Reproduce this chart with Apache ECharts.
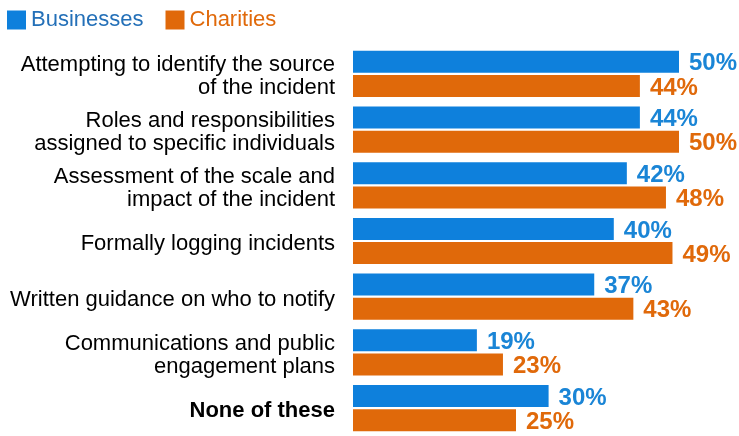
<!DOCTYPE html>
<html>
<head>
<meta charset="utf-8">
<script src="https://cdn.jsdelivr.net/npm/echarts@6/dist/echarts.min.js"></script>
<style>
  html, body { margin: 0; padding: 0; background: #fff; }
  #chart { width: 739px; height: 436px; }
</style>
</head>
<body>
<div id="chart"></div>
<script>
var categories = [
    'Attempting to identify the source\nof the incident',
    'Roles and responsibilities\nassigned to specific individuals',
    'Assessment of the scale and\nimpact of the incident',
    'Formally logging incidents',
    'Written guidance on who to notify',
    'Communications and public\nengagement plans',
    'None of these'
];
var businesses = [50, 44, 42, 40, 37, 19, 30];
var charities = [44, 50, 48, 49, 43, 23, 25];

var BLUE = '#0e80dc';
var ORANGE = '#e0690a';

var chart = echarts.init(document.getElementById('chart'));

function valueLabel(color) {
    return {
        show: true,
        position: 'right',
        distance: 10,
        offset: [0, 2],
        formatter: '{c}%',
        color: color,
        fontFamily: 'Liberation Sans',
        fontWeight: 'bold',
        fontSize: 24
    };
}

chart.setOption({
    animation: false,
    legend: {
        left: 7,
        top: 9,
        padding: 0,
        icon: 'rect',
        itemWidth: 19,
        itemHeight: 19,
        itemGap: 22,
        data: [
            {name: 'Businesses', textStyle: {color: '#2470b8'}},
            {name: 'Charities', textStyle: {color: ORANGE}}
        ],
        textStyle: {
            fontFamily: 'Liberation Sans',
            fontSize: 22
        }
    },
    grid: {
        left: 353,
        top: 46,
        width: 358.6,
        height: 392
    },
    xAxis: {
        type: 'value',
        min: 0,
        max: 55,
        show: false
    },
    yAxis: {
        type: 'category',
        inverse: true,
        data: categories,
        axisLine: {show: false},
        axisTick: {show: false},
        axisLabel: {
            margin: 18,
            color: '#000',
            fontFamily: 'Liberation Sans',
            fontSize: 22,
            lineHeight: 23,
            align: 'right',
            padding: [6, 0, 0, 0],
            formatter: function (v) {
                if (v === 'None of these') return '{b|' + v + '}';
                return v;
            },
            rich: {
                b: {fontWeight: 'bold', fontSize: 22, color: '#000', fontFamily: 'Liberation Sans'}
            }
        }
    },
    series: [
        {
            name: 'Businesses',
            type: 'bar',
            data: businesses,
            barWidth: 22,
            barGap: '10%',
            itemStyle: {color: BLUE},
            label: valueLabel('#1a85d6')
        },
        {
            name: 'Charities',
            type: 'bar',
            data: charities,
            barWidth: 22,
            itemStyle: {color: ORANGE},
            label: valueLabel(ORANGE)
        }
    ]
});
</script>
</body>
</html>
